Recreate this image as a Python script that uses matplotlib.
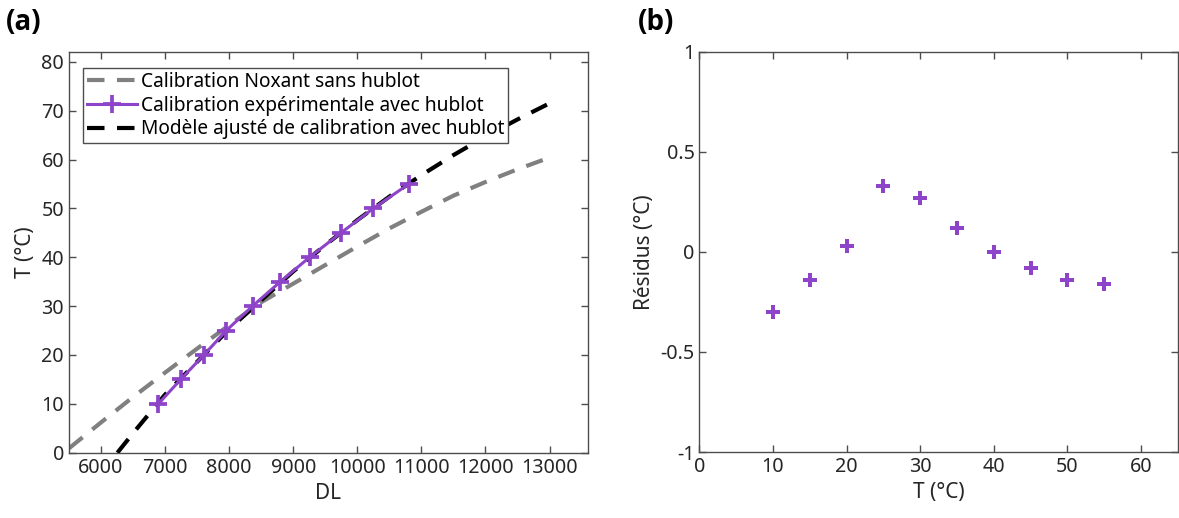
import matplotlib
matplotlib.use("Agg")
import matplotlib.pyplot as plt

plt.rcParams["font.family"] = ["Noto Sans", "DejaVu Sans"]

# Panel (a): calibration curves
dl_noxant = [5500, 6000, 6500, 7000, 7500, 8000, 8500, 9000, 9500,
             10000, 10500, 11000, 11500, 12000, 12500, 13000]
t_noxant = [0.9, 6.2, 11.4, 16.4, 21.3, 26.1, 30.8, 34.6, 38.4,
            42.2, 45.9, 49.3, 52.6, 55.4, 58.0, 60.4]

dl_exp = [6895, 7244, 7605, 7955, 8365, 8799, 9255, 9745, 10251, 10805]
t_exp = [10, 15, 20, 25, 30, 35, 40, 45, 50, 55]

dl_model = [6256, 6500, 7000, 7500, 8000, 8500, 9000, 9500, 10000,
            10500, 11000, 11500, 12000, 12500, 13000]
t_model = [0.0, 4.0, 11.9, 18.6, 25.3, 31.2, 37.1, 42.5, 47.6,
           52.4, 56.8, 60.9, 64.7, 68.2, 71.5]

# Panel (b): residuals
residus = [-0.30, -0.14, 0.03, 0.33, 0.27, 0.12, 0.00, -0.08, -0.14, -0.16]

purple = "#8e44c8"
spine_col = "#4d4d4d"
text_col = "#262626"

fig = plt.figure(figsize=(11.79, 5.18), dpi=100)
ax1 = fig.add_axes([0.0585, 0.126, 0.4402, 0.7736])
ax2 = fig.add_axes([0.5931, 0.1274, 0.4059, 0.7728])

# (a)
ax1.plot(dl_noxant, t_noxant, color="#808080", lw=3, dashes=(4.2, 3.0),
         label="Calibration Noxant sans hublot", zorder=2)
ax1.plot(dl_exp, t_exp, color=purple, lw=2.2, marker="+", ms=13, mew=2.7,
         label="Calibration expérimentale avec hublot", zorder=4)
ax1.plot(dl_model, t_model, color="black", lw=3, dashes=(4.2, 3.0),
         label="Modèle ajusté de calibration avec hublot", zorder=3)
ax1.set_xlim(5500, 13600)
ax1.set_ylim(0, 82)
ax1.set_xticks(range(6000, 13001, 1000))
ax1.set_yticks(range(0, 81, 10))
ax1.set_xlabel("DL", fontsize=15, color=text_col)
ax1.set_ylabel("T (°C)", fontsize=15, color=text_col)
leg = ax1.legend(loc="upper left", bbox_to_anchor=(0.02, 0.97), fontsize=13.8,
                 handlelength=2.6, handletextpad=0.2, borderpad=0.2,
                 labelspacing=0.2, borderaxespad=0.2, fancybox=False,
                 framealpha=1)
leg.get_frame().set_edgecolor(spine_col)
leg.get_frame().set_linewidth(1)

# (b)
ax2.plot(t_exp, residus, linestyle="none", color=purple, marker="P",
         ms=10, mew=0)
ax2.set_xlim(0, 65)
ax2.set_ylim(-1, 1)
ax2.set_xticks(range(0, 61, 10))
ax2.set_yticks([-1, -0.5, 0, 0.5, 1])
ax2.set_yticklabels(["-1", "-0.5", "0", "0.5", "1"])
ax2.set_xlabel("T (°C)", fontsize=15, color=text_col)
ax2.set_ylabel("Résidus (°C)", fontsize=15, color=text_col)

for ax in (ax1, ax2):
    for s in ax.spines.values():
        s.set_color(spine_col)
        s.set_linewidth(1)
    ax.tick_params(direction="in", length=5, width=1, color=spine_col,
                   labelsize=14.2, labelcolor=text_col,
                   top=True, right=True)

panel_font = dict(fontsize=20, fontweight="bold", va="top",
                  family=["Open Sans", "DejaVu Sans"])
fig.text(0.005, 0.985, "(a)", **panel_font)
fig.text(0.541, 0.985, "(b)", **panel_font)

fig.savefig("out.png", dpi=100)
